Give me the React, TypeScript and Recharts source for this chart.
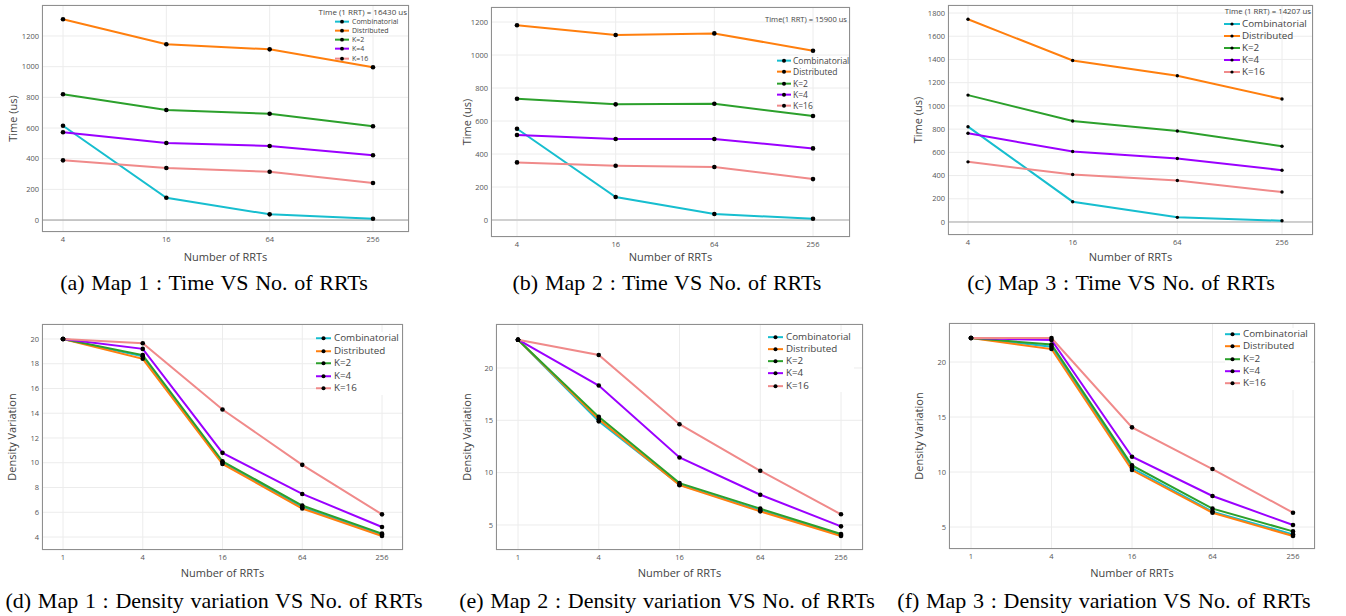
import React from "react";
import { LineChart, Line, XAxis, YAxis, CartesianGrid, ReferenceLine, Legend } from "recharts";

const seriesNames = ["Combinatorial", "Distributed", "K=2", "K=4", "K=16"];
const seriesColors = ["#17becf", "#ff7f0e", "#2ca02c", "#9b00ff", "#f08a8a"];

const timeRRTs = ["4", "16", "64", "256"];
const densityRRTs = ["1", "4", "16", "64", "256"];

const timeTicks = [0, 200, 400, 600, 800, 1000, 1200];
const timeTicksMap3 = [0, 200, 400, 600, 800, 1000, 1200, 1400, 1600, 1800];
const densityTicksMap1 = [4, 6, 8, 10, 12, 14, 16, 18, 20];
const densityTicks = [5, 10, 15, 20];

// rows: Combinatorial, Distributed, K=2, K=4, K=16
const map1Time = [
  [615, 145, 37, 8],
  [1309, 1146, 1113, 996],
  [820, 717, 693, 611],
  [572, 502, 483, 422],
  [389, 339, 315, 241],
];
const map2Time = [
  [553, 139, 36, 8],
  [1180, 1121, 1131, 1026],
  [735, 701, 705, 630],
  [515, 491, 491, 434],
  [349, 329, 321, 248],
];
const map3Time = [
  [821, 175, 40, 11],
  [1746, 1391, 1259, 1059],
  [1093, 870, 784, 653],
  [764, 607, 547, 446],
  [518, 409, 358, 258],
];
const map1Density = [
  [20, 18.6, 10.0, 6.4, 4.2],
  [20, 18.4, 9.9, 6.3, 4.08],
  [20, 18.7, 10.12, 6.54, 4.27],
  [20, 19.2, 10.8, 7.48, 4.81],
  [20, 19.65, 14.3, 9.83, 5.83],
];
const map2Density = [
  [22.7, 14.9, 8.85, 6.4, 4.05],
  [22.7, 15.1, 8.8, 6.3, 3.95],
  [22.7, 15.33, 9.0, 6.56, 4.14],
  [22.7, 18.32, 11.45, 7.89, 4.87],
  [22.7, 21.24, 14.63, 10.18, 6.02],
];
const map3Density = [
  [22.18, 21.4, 10.36, 6.4, 4.33],
  [22.18, 21.18, 10.18, 6.3, 4.18],
  [22.18, 21.6, 10.6, 6.67, 4.6],
  [22.18, 22.0, 11.39, 7.82, 5.18],
  [22.18, 22.18, 14.06, 10.27, 6.3],
];

const FONT = "'Open Sans', sans-serif";
const SERIF = "'Liberation Serif', 'Times New Roman', serif";

type Frame = { l: number; t: number; r: number; b: number };
type LegendGeo = { x: number; y: number; rowH: number; sw: number; gap: number; fs: number; r: number; bg?: boolean };

type PanelProps = {
  frame: Frame;
  cats: string[];
  values: number[][];
  yDomain: [number, number];
  yTicks: number[];
  yTitle: string;
  yTitleOffset: number;
  xTitleOffset: number;
  pad: [number, number];
  zero?: { stroke: string; width: number };
  legend: LegendGeo;
  dotR: number;
};

function Panel(p: PanelProps) {
  const { frame, legend } = p;
  const boxX = frame.l - 42;
  const boxY = frame.t - 5;
  const width = frame.r - boxX + 8;
  const height = frame.b - boxY + 33;
  const data = p.cats.map((c, i) => {
    const row: any = { n: c };
    p.values.forEach((v, k) => (row["s" + k] = v[i]));
    return row;
  });

  const renderLegend = (lp: any) => {
    // keep trace order, not alphabetical
    const items = [...(lp.payload || [])].sort(
      (a: any, b: any) => seriesNames.indexOf(a.value) - seriesNames.indexOf(b.value)
    );
    return (
      <div
        style={{
          background: legend.bg ? "#fff" : "transparent",
          fontFamily: FONT,
          fontSize: legend.fs,
          color: "#444",
          paddingRight: 3,
        }}
      >
        {items.map((item: any) => (
          <div key={item.value} style={{ display: "flex", alignItems: "center", height: legend.rowH, whiteSpace: "nowrap" }}>
            <svg width={legend.sw} height={legend.rowH} style={{ display: "block" }}>
              <line x1={0} x2={legend.sw} y1={legend.rowH / 2} y2={legend.rowH / 2} stroke={item.color} strokeWidth={2} />
              <circle cx={legend.sw / 2} cy={legend.rowH / 2} r={legend.r} fill="#000" />
            </svg>
            <span style={{ marginLeft: legend.gap, lineHeight: legend.rowH + "px" }}>{item.value}</span>
          </div>
        ))}
      </div>
    );
  };

  return (
    <div style={{ position: "absolute", left: boxX, top: boxY, width, height }}>
      <LineChart width={width} height={height} data={data} margin={{ top: 5, right: 8, bottom: 0, left: 0 }}>
        <CartesianGrid stroke="#ececec" strokeWidth={1} />
        <XAxis
          dataKey="n"
          padding={{ left: p.pad[0], right: p.pad[1] }}
          tickLine={false}
          axisLine={false}
          tickSize={0}
          tickMargin={5}
          height={33}
          interval={0}
          tick={{ fontSize: 7.5, fill: "#555", fontFamily: FONT }}
          label={{
            value: "Number of RRTs",
            position: "insideBottom",
            offset: p.xTitleOffset,
            style: { fontSize: 11, fill: "#444", fontFamily: FONT },
          }}
        />
        <YAxis
          type="number"
          width={42}
          domain={p.yDomain}
          ticks={p.yTicks}
          allowDataOverflow
          tickLine={false}
          axisLine={false}
          tickSize={0}
          tickMargin={3}
          tick={{ fontSize: 7.5, fill: "#555", fontFamily: FONT }}
          label={{
            value: p.yTitle,
            angle: -90,
            position: "insideLeft",
            offset: p.yTitleOffset,
            style: { textAnchor: "middle", fontSize: 11, fill: "#444", fontFamily: FONT },
          }}
        />
        {p.zero && <ReferenceLine y={0} stroke={p.zero.stroke} strokeWidth={p.zero.width} />}
        {p.values.map((_, k) => (
          <Line
            key={k}
            type="linear"
            dataKey={"s" + k}
            name={seriesNames[k]}
            stroke={seriesColors[k]}
            strokeWidth={2}
            dot={{ r: p.dotR, fill: "#000", stroke: "#000", strokeWidth: 0 }}
            activeDot={false}
            isAnimationActive={false}
          />
        ))}
        <Legend
          layout="vertical"
          align="center"
          verticalAlign="middle"
          wrapperStyle={{ left: legend.x - boxX, top: legend.y - boxY, width: "auto", height: "auto" }}
          content={renderLegend}
        />
      </LineChart>
      <div
        style={{
          position: "absolute",
          left: 42,
          top: 5,
          width: frame.r - frame.l,
          height: frame.b - frame.t,
          border: "1.2px solid #8f8f8f",
          boxSizing: "border-box",
          pointerEvents: "none",
        }}
      />
    </div>
  );
}

function Note({ text, right, cy, fs }: { text: string; right: number; cy: number; fs: number }) {
  return (
    <div
      style={{
        position: "absolute",
        right: 1346 - right,
        top: cy - 6,
        height: 12,
        lineHeight: "12px",
        fontFamily: FONT,
        fontSize: fs,
        color: "#444",
        whiteSpace: "nowrap",
      }}
    >
      {text}
    </div>
  );
}

function Caption({ text, cx, top }: { text: string; cx: number; top: number }) {
  return (
    <div
      style={{
        position: "absolute",
        left: cx - 250,
        width: 500,
        top,
        height: 22,
        lineHeight: "22px",
        textAlign: "center",
        fontFamily: SERIF,
        fontSize: 22,
        wordSpacing: 1.2,
        color: "#000",
        whiteSpace: "nowrap",
      }}
    >
      {text}
    </div>
  );
}

export default function App() {
  return (
    <div style={{ position: "absolute", left: 0, top: 0, width: 1346, height: 616, background: "#fff", overflow: "hidden" }}>
      <Panel
        frame={{ l: 42, t: 5, r: 409, b: 232 }}
        cats={timeRRTs}
        values={map1Time}
        yDomain={[-78, 1402]}
        yTicks={timeTicks}
        yTitle="Time (us)"
        yTitleOffset={13}
        xTitleOffset={4}
        pad={[21, 36]}
        zero={{ stroke: "#9a9a9a", width: 1 }}
        legend={{ x: 335, y: 16.6, rowH: 9.3, sw: 14, gap: 3, fs: 7, r: 1.9 }}
        dotR={2.3}
      />
      <Note text="Time (1 RRT) = 16430 us" right={407} cy={12} fs={8} />

      <Panel
        frame={{ l: 491, t: 7, r: 850, b: 237 }}
        cats={timeRRTs}
        values={map2Time}
        yDomain={[-103, 1291]}
        yTicks={timeTicks}
        yTitle="Time (us)"
        yTitleOffset={18}
        xTitleOffset={9}
        pad={[26, 37]}
        zero={{ stroke: "#d0d0d0", width: 2 }}
        legend={{ x: 777, y: 55, rowH: 11.3, sw: 14, gap: 2, fs: 8.5, r: 2 }}
        dotR={2.3}
      />
      <Note text="Time(1 RRT) = 15900 us" right={847} cy={19} fs={7.6} />

      <Panel
        frame={{ l: 948, t: 5, r: 1313, b: 235 }}
        cats={timeRRTs}
        values={map3Time}
        yDomain={[-112, 1869]}
        yTicks={timeTicksMap3}
        yTitle="Time (us)"
        yTitleOffset={12}
        xTitleOffset={7}
        pad={[20, 31]}
        zero={{ stroke: "#a8a8a8", width: 1 }}
        legend={{ x: 1224, y: 18, rowH: 12, sw: 16, gap: 2, fs: 9.8, r: 1.6 }}
        dotR={1.7}
      />
      <Note text="Time (1 RRT) = 14207 us" right={1311} cy={11} fs={7.8} />

      <Panel
        frame={{ l: 42, t: 324, r: 403, b: 550 }}
        cats={densityRRTs}
        values={map1Density}
        yDomain={[2.95, 21.21]}
        yTicks={densityTicksMap1}
        yTitle="Density Variation"
        yTitleOffset={12}
        xTitleOffset={6}
        pad={[21, 21]}
        legend={{ x: 316, y: 332, rowH: 12.5, sw: 15, gap: 3, fs: 9.8, r: 2, bg: true }}
        dotR={2.3}
      />
      <Panel
        frame={{ l: 496, t: 324, r: 863, b: 550 }}
        cats={densityRRTs}
        values={map2Density}
        yDomain={[2.61, 24.2]}
        yTicks={densityTicks}
        yTitle="Density Variation"
        yTitleOffset={13}
        xTitleOffset={6}
        pad={[22, 22]}
        legend={{ x: 768, y: 330.5, rowH: 12.3, sw: 15, gap: 3, fs: 9.8, r: 2, bg: true }}
        dotR={2.3}
      />
      <Panel
        frame={{ l: 949, t: 323, r: 1315, b: 549 }}
        cats={densityRRTs}
        values={map3Density}
        yDomain={[3.0, 23.55]}
        yTicks={densityTicks}
        yTitle="Density Variation"
        yTitleOffset={12}
        xTitleOffset={5}
        pad={[22, 22]}
        legend={{ x: 1225, y: 327.8, rowH: 12.4, sw: 15, gap: 3, fs: 9.8, r: 2, bg: true }}
        dotR={2.3}
      />

      <Caption text="(a) Map 1 : Time VS No. of RRTs" cx={214} top={272} />
      <Caption text="(b) Map 2 : Time VS No. of RRTs" cx={667} top={272} />
      <Caption text="(c) Map 3 : Time VS No. of RRTs" cx={1121} top={272} />
      <Caption text="(d) Map 1 : Density variation VS No. of RRTs" cx={214} top={590} />
      <Caption text="(e) Map 2 : Density variation VS No. of RRTs" cx={667} top={590} />
      <Caption text="(f) Map 3 : Density variation VS No. of RRTs" cx={1104} top={590} />
    </div>
  );
}
